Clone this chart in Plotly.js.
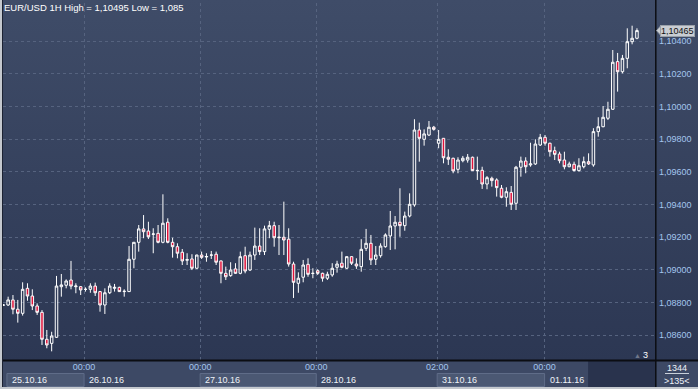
<!DOCTYPE html>
<html><head><meta charset="utf-8">
<script src="https://cdn.plot.ly/plotly-3.0.1.min.js"></script>
<style>
html,body{margin:0;padding:0;background:#c4c8ce;overflow:hidden;}
#chart{width:698px;height:389px;background:linear-gradient(to bottom,#3f4c68 0px,#2c3753 360px,#2c3753 389px);}
</style></head><body>
<div id="chart"></div>
<script>
const symbol = 'EUR/USD 1H';
const open = [1.08783,1.08784,1.08815,1.08758,1.08733,1.08886,1.08839,1.08778,1.08739,1.08574,
1.08549,1.08586,1.08896,1.08905,1.08937,1.08896,1.08896,1.08880,1.08880,1.08900,
1.08866,1.08784,1.08859,1.08886,1.08892,1.08866,1.08866,1.09064,1.09168,1.09250,
1.09237,1.09217,1.09223,1.09168,1.09291,1.09168,1.09141,1.09107,1.09058,1.09066,
1.09009,1.09090,1.09078,1.09089,1.09095,1.09054,1.08978,1.08964,1.09005,1.08978,
1.09086,1.08998,1.09090,1.09145,1.09111,1.09248,1.09270,1.09196,1.09199,1.09187,
1.09035,1.08917,1.08954,1.09033,1.08977,1.08994,1.08978,1.08948,1.08968,1.09015,
1.09040,1.09009,1.09080,1.09035,1.09019,1.09131,1.09162,1.09064,1.09086,1.09141,
1.09207,1.09268,1.09291,1.09270,1.09329,1.09397,1.09856,1.09799,1.09825,1.09873,
1.09775,1.09805,1.09689,1.09683,1.09615,1.09668,1.09672,1.09689,1.09609,1.09609,
1.09525,1.09560,1.09550,1.09499,1.09444,1.09474,1.09407,1.09628,1.09666,1.09642,
1.09648,1.09764,1.09811,1.09775,1.09729,1.09709,1.09672,1.09631,1.09646,1.09607,
1.09631,1.09662,1.09642,1.09846,1.09876,1.09928,1.09983,1.10275,1.10213,1.10295,
1.10397,1.10418];
const high = [1.08790,1.08835,1.08845,1.08815,1.08923,1.08917,1.08880,1.08794,1.08753,1.08631,
1.08620,1.08962,1.08974,1.08941,1.09054,1.08917,1.08900,1.08892,1.08917,1.08921,
1.08870,1.08886,1.08917,1.08913,1.08896,1.08880,1.09145,1.09170,1.09274,1.09335,
1.09294,1.09254,1.09274,1.09462,1.09315,1.09196,1.09162,1.09127,1.09101,1.09095,
1.09092,1.09111,1.09101,1.09115,1.09111,1.09056,1.09019,1.09046,1.09040,1.09111,
1.09141,1.09111,1.09258,1.09254,1.09270,1.09299,1.09294,1.09274,1.09417,1.09254,
1.09049,1.08984,1.09060,1.09070,1.09009,1.09003,1.08982,1.08988,1.09040,1.09055,
1.09111,1.09082,1.09082,1.09070,1.09187,1.09250,1.09213,1.09145,1.09162,1.09223,
1.09360,1.09329,1.09499,1.09356,1.09468,1.09922,1.09901,1.09860,1.09911,1.09881,
1.09856,1.09806,1.09738,1.09686,1.09689,1.09697,1.09709,1.09693,1.09693,1.09631,
1.09574,1.09570,1.09560,1.09519,1.09505,1.09513,1.09636,1.09693,1.09689,1.09778,
1.09799,1.09832,1.09825,1.09778,1.09754,1.09723,1.09723,1.09662,1.09662,1.09683,
1.09693,1.09713,1.09867,1.09934,1.10003,1.10029,1.10346,1.10328,1.10316,1.10479,
1.10495,1.10479];
const low = [1.08778,1.08778,1.08727,1.08676,1.08719,1.08810,1.08753,1.08723,1.08539,1.08519,
1.08500,1.08582,1.08835,1.08886,1.08880,1.08856,1.08845,1.08866,1.08859,1.08839,
1.08743,1.08729,1.08851,1.08866,1.08864,1.08835,1.08864,1.09009,1.09111,1.09193,
1.09188,1.09101,1.09162,1.09162,1.09162,1.09074,1.09070,1.09029,1.09029,1.08998,
1.09006,1.09066,1.09049,1.09066,1.09029,1.08917,1.08937,1.08957,1.08975,1.08972,
1.08978,1.08992,1.09060,1.09090,1.09090,1.09193,1.09141,1.09090,1.09090,1.09019,
1.08827,1.08859,1.08923,1.08957,1.08948,1.08968,1.08927,1.08937,1.08957,1.08982,
1.09009,1.09005,1.09029,1.09005,1.08988,1.09115,1.09029,1.09029,1.09074,1.09135,
1.09121,1.09125,1.09202,1.09239,1.09321,1.09386,1.09662,1.09760,1.09819,1.09852,
1.09744,1.09652,1.09642,1.09591,1.09591,1.09658,1.09656,1.09605,1.09550,1.09495,
1.09493,1.09509,1.09448,1.09438,1.09386,1.09366,1.09366,1.09570,1.09591,1.09631,
1.09642,1.09758,1.09760,1.09693,1.09672,1.09652,1.09615,1.09628,1.09601,1.09601,
1.09621,1.09642,1.09631,1.09815,1.09873,1.09917,1.09979,1.10091,1.10203,1.10234,
1.10381,1.10412];
const close = [1.08784,1.08815,1.08758,1.08733,1.08880,1.08839,1.08778,1.08739,1.08574,1.08539,
1.08594,1.08900,1.08907,1.08931,1.08900,1.08900,1.08876,1.08880,1.08900,1.08859,
1.08784,1.08859,1.08900,1.08892,1.08866,1.08868,1.09064,1.09168,1.09250,1.09233,
1.09202,1.09219,1.09168,1.09285,1.09168,1.09141,1.09101,1.09054,1.09062,1.09009,
1.09090,1.09076,1.09081,1.09090,1.09046,1.08978,1.08957,1.08998,1.08978,1.09080,
1.08992,1.09090,1.09145,1.09111,1.09250,1.09270,1.09196,1.09199,1.09182,1.09035,
1.08923,1.08948,1.09029,1.08972,1.08978,1.08978,1.08948,1.08972,1.09009,1.09035,
1.09015,1.09080,1.09040,1.09023,1.09125,1.09162,1.09060,1.09090,1.09145,1.09213,
1.09268,1.09291,1.09270,1.09329,1.09401,1.09856,1.09805,1.09832,1.09873,1.09860,
1.09799,1.09686,1.09677,1.09605,1.09672,1.09683,1.09689,1.09607,1.09607,1.09525,
1.09564,1.09546,1.09503,1.09444,1.09478,1.09401,1.09628,1.09666,1.09631,1.09648,
1.09770,1.09811,1.09775,1.09723,1.09707,1.09668,1.09631,1.09648,1.09608,1.09637,
1.09662,1.09648,1.09846,1.09876,1.09934,1.09983,1.10271,1.10213,1.10295,1.10397,
1.10418,1.10465];

const priceTicks = [1.086, 1.088, 1.090, 1.092, 1.094, 1.096, 1.098, 1.100, 1.102, 1.104];
const dayBounds = [0.75, 16.7, 40.7, 64.7, 89.7, 111.9, 120.9];
const timeLabels = ['00:00','00:00','00:00','02:00','00:00'];
const dateLabels = ['25.10.16','26.10.16','27.10.16','28.10.16','31.10.16','01.11.16'];
const totalBars = '1344';
const visibleBars = '>135<';
const shiftBars = '3';

const idx = open.map((_, i) => i);
const fmt = v => parseFloat(v.toFixed(5)).toString().replace('.', ',');
const fmt5 = v => v.toFixed(5).replace('.', ',');
const hi = Math.max(...high), lo = Math.min(...low);
const lastClose = close[close.length - 1];

const W = 698, H = 389, ML = 3, MR = 43, MT = 3, MB = 29;
const PW = W - ML - MR, PH = H - MT - MB;
const px = X => (X - ML) / PW;
const py = Y => (H - MB - Y) / PH;
const xr = [-0.06, 134.73];
const yr = [1.08447, 1.10634];
const xp = i => (i - xr[0]) / (xr[1] - xr[0]);
const yp = v => (v - yr[0]) / (yr[1] - yr[0]);

const shapes = [];
shapes.push({type:'rect', xref:'paper', yref:'paper', x0:px(2), x1:px(698), y0:py(361), y1:py(387), fillcolor:'#3d4965', line:{width:0}, layer:'below'});
shapes.push({type:'rect', xref:'paper', yref:'paper', x0:xp(dayBounds[6]), x1:px(656), y0:py(361), y1:py(387), fillcolor:'#29334d', line:{width:0}, layer:'below'});
for (let k = 0; k < dateLabels.length; k += 2) {
  shapes.push({type:'rect', xref:'paper', yref:'paper', x0:xp(dayBounds[k]), x1:xp(dayBounds[k+1]), y0:py(373.5), y1:py(386.5), fillcolor:'#4b5873', line:{color:'#5f6c88', width:1}, layer:'below'});
}
shapes.push({type:'line', xref:'paper', yref:'paper', x0:px(2), x1:px(698), y0:py(360.5), y1:py(360.5), line:{color:'#0b0d12', width:2}});
shapes.push({type:'line', xref:'paper', yref:'paper', x0:px(655.8), x1:px(655.8), y0:py(0), y1:py(387), line:{color:'#0b0d12', width:1.5}});
shapes.push({type:'rect', xref:'paper', yref:'paper', x0:px(0), x1:px(2), y0:py(0), y1:py(389), fillcolor:'#c4c8ce', line:{width:0}});
shapes.push({type:'line', xref:'paper', yref:'paper', x0:px(2.5), x1:px(2.5), y0:py(0), y1:py(387), line:{color:'#1c2232', width:1}});
shapes.push({type:'rect', xref:'paper', yref:'paper', x0:px(0), x1:px(698), y0:py(387), y1:py(389), fillcolor:'#c4c8ce', line:{width:0}});
shapes.push({type:'line', xref:'paper', yref:'paper', x0:px(665), x1:px(689), y0:py(373.5), y1:py(373.5), line:{color:'#c9d0da', width:1}});
const ly = yp(lastClose);
shapes.push({type:'path', xref:'paper', yref:'paper', path:`M ${px(656.5)},${ly} L ${px(661)},${ly + 5/PH} L ${px(661)},${ly - 5/PH} Z`, fillcolor:'#c9cdd3', line:{color:'#9aa1aa', width:1}});

const annFont = (s, c) => ({family:'Liberation Sans, Arial, sans-serif', size:s, color:c});
const annotations = [];
dateLabels.forEach((d, k) => {
  annotations.push({text:d, xref:'x', yref:'paper', x:dayBounds[k], y:py(380.3), xanchor:'left', yanchor:'middle', xshift:3, showarrow:false, font:annFont(9, '#eef2f8')});
});
annotations.push({text:totalBars, xref:'paper', yref:'paper', x:px(677), y:py(368), xanchor:'center', yanchor:'middle', showarrow:false, font:annFont(9, '#eef2f8')});
annotations.push({text:visibleBars, xref:'paper', yref:'paper', x:px(677), y:py(381), xanchor:'center', yanchor:'middle', showarrow:false, font:annFont(9, '#eef2f8')});
annotations.push({text:'▲', xref:'paper', yref:'paper', x:px(637), y:py(355), xanchor:'center', yanchor:'middle', showarrow:false, font:annFont(7, '#6f788c')});
annotations.push({text:shiftBars, xref:'paper', yref:'paper', x:px(645), y:py(355), xanchor:'center', yanchor:'middle', showarrow:false, font:annFont(9, '#ffffff')});
annotations.push({text:fmt5(lastClose), xref:'paper', yref:'y', x:1, y:lastClose, xanchor:'left', yanchor:'middle', xshift:5, showarrow:false,
  bgcolor:'#c9cdd3', bordercolor:'#9aa1aa', borderwidth:1, borderpad:0, font:annFont(9, '#111111')});

const trace = {
  type:'candlestick', x:idx, open:open, high:high, low:low, close:close,
  increasing:{line:{color:'#ffffff', width:1}, fillcolor:'rgba(0,0,0,0)'},
  decreasing:{line:{color:'#ffffff', width:1}, fillcolor:'#e0123a'},
  whiskerwidth:0, hoverinfo:'skip', showlegend:false
};

const layout = {
  width:W, height:H, margin:{l:ML, r:MR, t:MT, b:MB, pad:0},
  paper_bgcolor:'rgba(0,0,0,0)', plot_bgcolor:'rgba(0,0,0,0)',
  separators:',.', showlegend:false, boxgap:0.26,
  font:{family:'Liberation Sans, Arial, sans-serif', size:9, color:'#a4c6ee'},
  title:{text:`${symbol} High = ${fmt(hi)} Low = ${fmt(lo)}`, xref:'container', yref:'container',
    x:4/W, xanchor:'left', y:1 - 8/H, yanchor:'middle', font:{family:'Liberation Sans, Arial, sans-serif', size:9.5, color:'#ffffff'}},
  xaxis:{range:xr, tickmode:'array', tickvals:dayBounds.slice(1, 6), ticktext:timeLabels,
    showgrid:true, gridcolor:'#56637f', griddash:'dot', gridwidth:1, zeroline:false, showline:false, ticks:'',
    tickfont:{size:9, color:'#a4c6ee'}, rangeslider:{visible:false}, fixedrange:true},
  yaxis:{side:'right', range:yr, tickmode:'array', tickvals:priceTicks, ticktext:priceTicks.map(fmt5),
    showgrid:true, gridcolor:'#56637f', griddash:'dot', gridwidth:1, zeroline:false, showline:false, ticks:'',
    ticklabelstandoff:3, tickfont:{size:9, color:'#a4c6ee'}, fixedrange:true},
  shapes:shapes, annotations:annotations
};

Plotly.newPlot('chart', [trace], layout, {staticPlot:true, displayModeBar:false});
</script>
</body></html>
